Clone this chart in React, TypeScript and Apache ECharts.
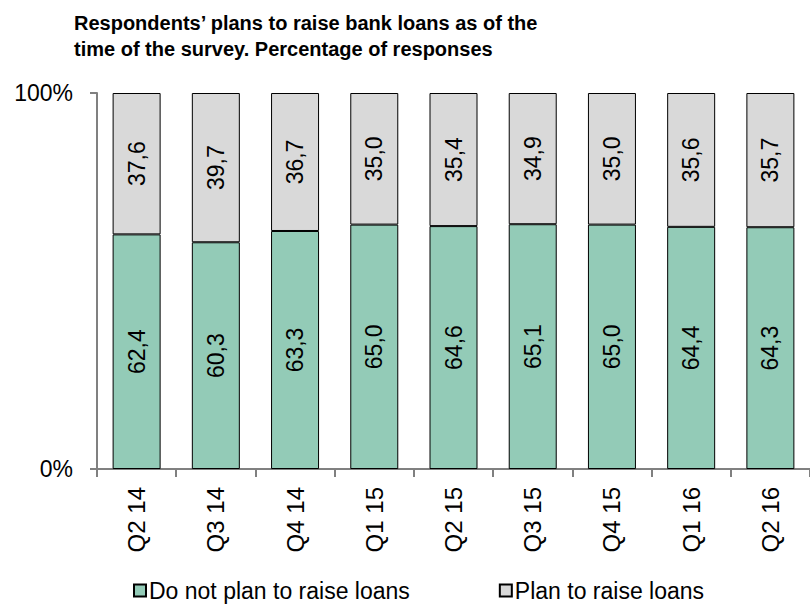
import React, { useEffect, useRef } from "react";
import * as echarts from "echarts";

const categories = ["Q2 14", "Q3 14", "Q4 14", "Q1 15", "Q2 15", "Q3 15", "Q4 15", "Q1 16", "Q2 16"];
const notPlan = [62.4, 60.3, 63.3, 65.0, 64.6, 65.1, 65.0, 64.4, 64.3];
const plan = [37.6, 39.7, 36.7, 35.0, 35.4, 34.9, 35.0, 35.6, 35.7];
const seriesNames = ["Do not plan to raise loans", "Plan to raise loans"];
const titleText = "Respondents\u2019 plans to raise bank loans as of the\ntime of the survey. Percentage of responses";

const FONT = "Liberation Sans, Arial, sans-serif";

export default function App() {
  const ref = useRef<HTMLDivElement>(null);
  useEffect(() => {
    if (!ref.current) return;
    const chart = echarts.init(ref.current, undefined, { renderer: "svg" });
    const labelCfg = {
      show: true,
      position: "inside" as const,
      rotate: 90,
      color: "#000",
      fontSize: 23,
      fontFamily: FONT,
      formatter: (p: any) => Number(p.value).toFixed(1).replace(".", ","),
    };
    chart.setOption({
      animation: false,
      textStyle: { fontFamily: FONT },
      title: {
        text: titleText,
        left: 74,
        top: 10,
        padding: 0,
        textStyle: { fontSize: 20, fontWeight: "bold", color: "#000", fontFamily: FONT, lineHeight: 26 },
      },
      legend: {
        bottom: 2,
        left: 133,
        padding: 0,
        itemWidth: 12,
        itemHeight: 12,
        itemGap: 89,
        icon: "rect",
        textStyle: { fontSize: 23, color: "#000", fontFamily: FONT, padding: [0, 0, 0, -2] },
        data: seriesNames,
      },
      grid: { left: 97, right: -11, top: 93, bottom: 135, containLabel: false },
      xAxis: {
        type: "category",
        data: categories,
        axisLine: { lineStyle: { color: "#808080", width: 2 } },
        axisTick: { show: true, length: 8, lineStyle: { color: "#808080", width: 2 } },
        axisLabel: { rotate: 90, fontSize: 24, color: "#000", margin: 18, fontFamily: FONT },
      },
      yAxis: {
        type: "value",
        min: 0,
        max: 100,
        interval: 100,
        splitLine: { show: false },
        axisLine: { show: true, lineStyle: { color: "#808080", width: 2 } },
        axisTick: { show: true, length: 7, lineStyle: { color: "#808080", width: 2 } },
        axisLabel: { formatter: "{value}%", fontSize: 23, color: "#000", margin: 24, fontFamily: FONT },
      },
      series: [
        {
          name: seriesNames[0],
          type: "bar",
          stack: "total",
          data: notPlan,
          barWidth: 48,
          itemStyle: { color: "#93CBB7", borderColor: "#000", borderWidth: 1 },
          label: labelCfg,
        },
        {
          name: seriesNames[1],
          type: "bar",
          stack: "total",
          data: plan,
          barWidth: 48,
          itemStyle: { color: "#D9D9D9", borderColor: "#000", borderWidth: 1 },
          label: labelCfg,
        },
      ],
    });
    return () => chart.dispose();
  }, []);
  return (
    <div
      ref={ref}
      style={{ position: "fixed", left: 0, top: 0, width: 810, height: 604, background: "#fff" }}
    />
  );
}
